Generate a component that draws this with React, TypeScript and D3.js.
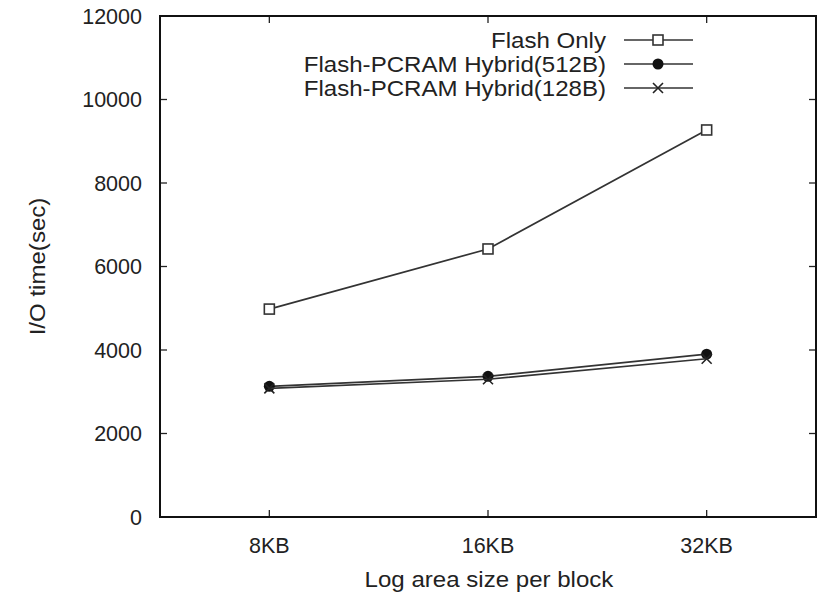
import React, { useEffect, useRef } from "react";
import * as d3 from "d3";

const categories = ["8KB", "16KB", "32KB"];
const flashOnly = [4980, 6420, 9270];
const hybrid512 = [3130, 3370, 3900];
const hybrid128 = [3080, 3300, 3790];
const yTicks = [0, 2000, 4000, 6000, 8000, 10000, 12000];

const seriesList = [
  { name: "Flash Only", values: flashOnly, marker: "square" },
  { name: "Flash-PCRAM Hybrid(512B)", values: hybrid512, marker: "circle" },
  { name: "Flash-PCRAM Hybrid(128B)", values: hybrid128, marker: "cross" },
];

const App = () => {
  const svgRef = useRef<SVGSVGElement>(null);

  useEffect(() => {
    const svg = d3.select(svgRef.current);
    svg.selectAll("*").remove();

    const width = 821;
    const height = 596;
    const margin = { top: 16, right: 5, bottom: 79, left: 160 };
    const font = "'Liberation Sans', Arial, sans-serif";

    const x = d3
      .scaleLinear()
      .domain([-0.5, categories.length - 0.5])
      .range([margin.left, width - margin.right]);
    const y = d3
      .scaleLinear()
      .domain([0, 12000])
      .range([height - margin.bottom, margin.top]);

    const x0 = margin.left;
    const x1 = width - margin.right;
    const y0 = height - margin.bottom;
    const y1 = margin.top;
    const tick = 7;

    // ticks, inward on all four sides
    const tg = svg.append("g").attr("stroke", "#222").attr("stroke-width", 1.3);
    yTicks.forEach((t) => {
      tg.append("line").attr("x1", x0).attr("x2", x0 + tick).attr("y1", y(t)).attr("y2", y(t));
      tg.append("line").attr("x1", x1).attr("x2", x1 - tick).attr("y1", y(t)).attr("y2", y(t));
    });
    categories.forEach((c, i) => {
      tg.append("line").attr("x1", x(i)).attr("x2", x(i)).attr("y1", y0).attr("y2", y0 - tick);
      tg.append("line").attr("x1", x(i)).attr("x2", x(i)).attr("y1", y1).attr("y2", y1 + tick);
    });

    // frame
    svg
      .append("rect")
      .attr("x", x0)
      .attr("y", y1)
      .attr("width", x1 - x0)
      .attr("height", y0 - y1)
      .attr("fill", "none")
      .attr("stroke", "#111")
      .attr("stroke-width", 2);

    // tick labels
    svg
      .append("g")
      .selectAll("text")
      .data(yTicks)
      .join("text")
      .attr("x", x0 - 18)
      .attr("y", (d) => y(d))
      .attr("dy", "0.35em")
      .attr("text-anchor", "end")
      .attr("font-family", font)
      .attr("font-size", 21.5)
      .attr("fill", "#222")
      .text((d) => d);

    svg
      .append("g")
      .selectAll("text")
      .data(categories)
      .join("text")
      .attr("x", (_, i) => x(i))
      .attr("y", y0 + 36)
      .attr("text-anchor", "middle")
      .attr("font-family", font)
      .attr("font-size", 21.5)
      .attr("fill", "#222")
      .text((d) => d);

    // axis titles (the reference text is a little wider than tall)
    svg
      .append("text")
      .attr("transform", "translate(489, 587) scale(1.12, 1)")
      .attr("text-anchor", "middle")
      .attr("font-family", font)
      .attr("font-size", 21.5)
      .attr("fill", "#222")
      .text("Log area size per block");

    svg
      .append("text")
      .attr("transform", `translate(45, ${(y0 + y1) / 2}) rotate(-90) scale(1.12, 1)`)
      .attr("text-anchor", "middle")
      .attr("font-family", font)
      .attr("font-size", 21.5)
      .attr("fill", "#222")
      .text("I/O time(sec)");

    const drawMarker = (g, kind, cx, cy) => {
      if (kind === "square") {
        g.append("rect")
          .attr("x", cx - 5)
          .attr("y", cy - 5)
          .attr("width", 10)
          .attr("height", 10)
          .attr("fill", "white")
          .attr("stroke", "#333")
          .attr("stroke-width", 1.6);
      } else if (kind === "circle") {
        g.append("circle").attr("cx", cx).attr("cy", cy).attr("r", 5.5).attr("fill", "#111");
      } else {
        const s = 5;
        g.append("path")
          .attr("d", `M${cx - s},${cy - s}L${cx + s},${cy + s}M${cx - s},${cy + s}L${cx + s},${cy - s}`)
          .attr("stroke", "#222")
          .attr("stroke-width", 1.6);
      }
    };

    const line = d3
      .line<number>()
      .x((_, i) => x(i))
      .y((d) => y(d));

    seriesList.forEach((s) => {
      const g = svg.append("g");
      g.append("path")
        .datum(s.values)
        .attr("fill", "none")
        .attr("stroke", "#333")
        .attr("stroke-width", 1.7)
        .attr("d", line);
      s.values.forEach((v, i) => drawMarker(g, s.marker, x(i), y(v)));
    });

    // legend
    const lg = svg.append("g");
    seriesList.forEach((s, i) => {
      const ly = 40 + i * 24;
      lg.append("text")
        .attr("transform", `translate(606, ${ly}) scale(1.12, 1)`)
        .attr("dy", "0.35em")
        .attr("text-anchor", "end")
        .attr("font-family", font)
        .attr("font-size", 21.5)
        .attr("fill", "#222")
        .text(s.name);
      lg.append("line")
        .attr("x1", 624)
        .attr("x2", 693)
        .attr("y1", ly)
        .attr("y2", ly)
        .attr("stroke", "#333")
        .attr("stroke-width", 1.7);
      drawMarker(lg, s.marker, 658, ly);
    });
  }, []);

  return (
    <svg
      ref={svgRef}
      width={821}
      height={596}
      style={{ position: "absolute", left: 0, top: 0, background: "white" }}
    />
  );
};

export default App;
